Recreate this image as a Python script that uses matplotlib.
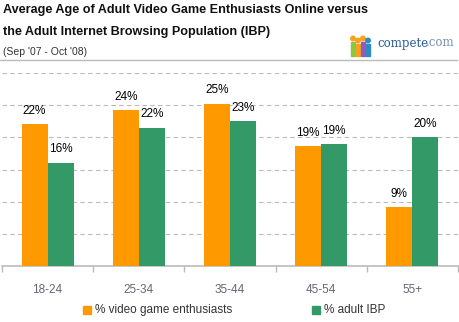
import matplotlib.pyplot as plt
import matplotlib.patches as patches
import numpy as np

plt.rcParams['font.family'] = ['Liberation Sans', 'DejaVu Sans']

# data
age_groups = ['18-24', '25-34', '35-44', '45-54', '55+']
gamers = [22.0, 24.2, 25.2, 18.6, 9.1]
ibp = [16.0, 21.5, 22.5, 18.9, 20.0]
gamer_labels = ['22%', '24%', '25%', '19%', '9%']
ibp_labels = ['16%', '22%', '23%', '19%', '20%']

ORANGE = '#ff9900'
GREEN = '#339966'

fig = plt.figure(figsize=(4.6, 3.22), dpi=100)
ax = fig.add_axes([2 / 460, 1 - 266 / 322, 456 / 460, 193 / 322])

x = np.arange(len(age_groups))
w = 0.286
ax.bar(x - w / 2, gamers, w, color=ORANGE, zorder=3)
ax.bar(x + w / 2, ibp, w, color=GREEN, zorder=3)

for xi, v, s in zip(x, gamers, gamer_labels):
    ax.annotate(s, (xi - w / 2, v), xytext=(0, 5.5), textcoords='offset points',
                ha='center', va='bottom', fontsize=8.5, color='black')
for xi, v, s in zip(x, ibp, ibp_labels):
    ax.annotate(s, (xi + w / 2, v), xytext=(0, 5.5), textcoords='offset points',
                ha='center', va='bottom', fontsize=8.5, color='black')

ax.set_xlim(-0.5, len(age_groups) - 0.5)
ax.set_ylim(0, 30)
ax.set_yticks(np.arange(5, 31, 5))
ax.yaxis.grid(True, color='#bbbbbb', linestyle=(0, (4, 3)), linewidth=0.8)
ax.tick_params(axis='y', left=False, labelleft=False)
ax.set_xticks(x)
ax.set_xticklabels(age_groups, color='#666677', fontsize=8.5)
ax.tick_params(axis='x', length=0, pad=13)
ax.set_xticks(np.arange(-0.5, len(age_groups)), minor=True)
ax.tick_params(axis='x', which='minor', length=4, color='#bbbbbb', width=1)
for side in ['top', 'left', 'right']:
    ax.spines[side].set_visible(False)
ax.spines['bottom'].set_color('#bbbbbb')
ax.spines['bottom'].set_linewidth(1.2)

# titles
fig.text(3 / 460, 1 - 10 / 322, 'Average Age of Adult Video Game Enthusiasts Online versus',
         fontsize=9.1, fontweight='bold', va='center', color='#111111')
fig.text(3 / 460, 1 - 32 / 322, 'the Adult Internet Browsing Population (IBP)',
         fontsize=9.1, fontweight='bold', va='center', color='#111111')
fig.text(3 / 460, 1 - 52 / 322, "(Sep '07 - Oct '08)", fontsize=7.5,
         va='center', color='#333333')
fig.add_artist(plt.Line2D([0, 457 / 460], [1 - 60 / 322] * 2,
                          color='#bbbbbb', linewidth=1))

# compete.com logo: little people plus wordmark
heads = ['#f7a21b', '#f7a21b', '#f7a21b', '#2b8cc4']
bodies = ['#8dc63f', '#f7a21b', '#9b59b6', '#2b8cc4']
for i in range(4):
    px = 353 + i * 5
    top = 36 + (i % 2) * 2
    fig.add_artist(patches.Ellipse((px / 460, 1 - (top + 2.5) / 322), 4.5 / 460, 4.5 / 322,
                                   color=heads[i], transform=fig.transFigure))
    fig.add_artist(patches.Rectangle(((px - 2) / 460, 1 - 56 / 322), 4 / 460,
                                     (56 - top - 6) / 322,
                                     color=bodies[i], transform=fig.transFigure))
fig.text(377 / 460, 1 - 43 / 322, 'compete', fontsize=8.5, color='#2a5a9a',
         va='center', family='DejaVu Serif')
fig.text(426 / 460, 1 - 43 / 322, '.com', fontsize=8.5, color='#7a8fb0',
         va='center', family='DejaVu Serif')

# legend
fig.add_artist(patches.Rectangle((83 / 460, 1 - 314 / 322), 8 / 460, 8 / 322,
                                 color=ORANGE, transform=fig.transFigure))
fig.text(95 / 460, 1 - 310 / 322, '% video game enthusiasts', fontsize=8.5,
         va='center', color='#333333')
fig.add_artist(patches.Rectangle((312 / 460, 1 - 314 / 322), 8 / 460, 8 / 322,
                                 color=GREEN, transform=fig.transFigure))
fig.text(324 / 460, 1 - 310 / 322, '% adult IBP', fontsize=8.5,
         va='center', color='#333333')

fig.savefig('out.png', dpi=100)
